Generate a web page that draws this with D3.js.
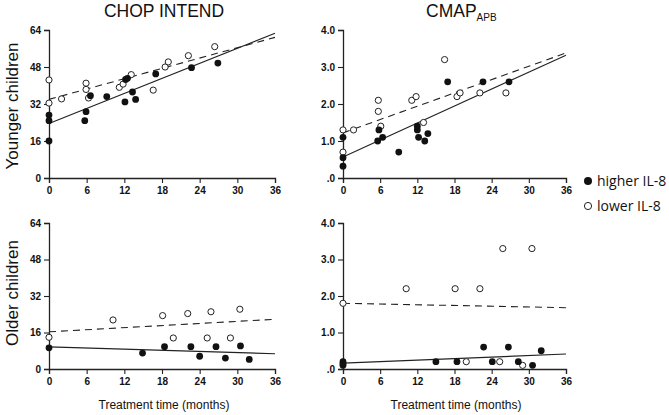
<!DOCTYPE html>
<html><head><meta charset="utf-8">
<script src="https://cdn.jsdelivr.net/npm/d3@7"></script>
<style>body{margin:0;background:#fff}</style>
</head><body><svg id="c" width="669" height="415"></svg>
<script>
// ---- data ----
const monthTicks = [0, 6, 12, 18, 24, 30, 36];
const chopTicks = [0, 16, 32, 48, 64];
const cmapTicks = [0, 1, 2, 3, 4];
const cmapTickLabels = [".0", "1.0", "2.0", "3.0", "4.0"];

// CHOP INTEND, younger children [month, score]
const chopYoungHigh = [[0,27.2],[0,24.8],[0,16],[5.7,24.8],[5.9,28.7],[6.6,35.6],[9.2,35.2],[12.1,32.9],[12.2,42.6],[12.5,43.1],[13.3,37.2],[13.8,34],[17.0,45],[22.7,47.7],[26.9,49.7]];
const chopYoungLow  = [[0,42.4],[0,32.4],[2.0,34.2],[5.9,41],[5.9,38.3],[6.3,34.6],[11.2,39.2],[11.8,40.6],[13.1,44.7],[16.6,38],[18.5,48],[19.0,50.2],[22.2,52.9],[26.4,56.8]];
// CMAP APB, younger children
const cmapYoungHigh = [[0,1.1],[0,0.55],[0,0.32],[5.6,1.0],[5.8,1.3],[6.4,1.1],[9.0,0.7],[12.0,1.3],[12.0,1.4],[12.2,1.1],[13.2,1.0],[13.7,1.2],[16.9,2.6],[22.6,2.6],[26.8,2.6]];
const cmapYoungLow  = [[0,1.3],[0,0.7],[1.7,1.3],[5.7,2.1],[5.7,1.8],[6.1,1.4],[11.1,2.1],[11.8,2.2],[13.0,1.5],[16.4,3.2],[18.4,2.2],[18.9,2.3],[22.1,2.3],[26.3,2.3]];
// CHOP INTEND, older children
const chopOldHigh = [[0,9.3],[14.9,7.0],[18.4,9.8],[22.6,9.8],[24.0,5.6],[26.6,9.8],[28.1,4.8],[30.5,10.1],[31.9,4.2]];
const chopOldLow  = [[0,13.9],[10.2,21.5],[18.1,23.4],[19.8,13.6],[22.1,24.3],[25.2,13.6],[25.8,25.1],[28.9,13.6],[30.4,26.2]];
// CMAP APB, older children
const cmapOldHigh = [[0,0.2],[0,0.15],[0,0.1],[15.0,0.2],[18.4,0.2],[22.7,0.6],[24.1,0.2],[26.7,0.6],[28.3,0.2],[30.6,0.1],[32.0,0.5]];
const cmapOldLow  = [[0,1.8],[10.2,2.2],[18.1,2.2],[22.1,2.2],[19.9,0.2],[25.3,0.2],[25.8,3.3],[29.0,0.1],[30.5,3.3]];

// regression lines [value at 0, value at 36]
const chopYoungFit = {high:[23.6,62.6], low:[34.0,60.8]};
const cmapYoungFit = {high:[0.57,3.32], low:[1.22,3.38]};
const chopOldFit   = {high:[9.7,6.7],  low:[16.3,21.8]};
const cmapOldFit   = {high:[0.16,0.41], low:[1.8,1.68]};

const legendLabels = ["higher IL-8", "lower IL-8"];

// ---- drawing ----
const svg = d3.select("#c");
const tickFont = "'Liberation Sans', Arial, sans-serif";

function panel(opt){
  const g = svg.append("g");
  const x = d3.scaleLinear().domain([0,36]).range([opt.x0, opt.x1]);
  const y = d3.scaleLinear().domain([0,opt.ymax]).range([opt.y0, opt.y1]);
  // axes
  const xa = g.append("g").attr("transform",`translate(0,${opt.y0})`)
    .call(d3.axisBottom(x).tickValues(monthTicks).tickSize(5).tickPadding(4).tickFormat(d3.format("d")));
  const ya = g.append("g").attr("transform",`translate(${opt.x0},0)`)
    .call(d3.axisLeft(y).tickValues(opt.ticks).tickSize(5).tickPadding(3).tickFormat((d,i)=>opt.labels[i]));
  [xa,ya].forEach(a=>{
    a.select(".domain").attr("stroke","#222").attr("stroke-width",1.3);
    a.selectAll(".tick line").attr("stroke","#222").attr("stroke-width",1.1);
    a.selectAll("text").attr("fill","#111").attr("font-family",tickFont).attr("font-weight","bold").attr("font-size","10px");
  });
  // fits
  const fit = (vals, dash) => g.append("line")
    .attr("x1",x(0)).attr("x2",x(36)).attr("y1",y(vals[0])).attr("y2",y(vals[1]))
    .attr("stroke","#222").attr("stroke-width",1.1).attr("stroke-dasharray",dash);
  fit(opt.fit.low,"7,5");
  fit(opt.fit.high,null);
  // points
  g.selectAll("circle.lo").data(opt.low).join("circle").attr("class","lo")
    .attr("cx",d=>x(d[0])).attr("cy",d=>y(d[1])).attr("r",3.1)
    .attr("fill","#fff").attr("stroke","#222").attr("stroke-width",1);
  g.selectAll("circle.hi").data(opt.high).join("circle").attr("class","hi")
    .attr("cx",d=>x(d[0])).attr("cy",d=>y(d[1])).attr("r",3.4)
    .attr("fill","#111");
}

panel({x0:49,x1:275,y0:178,y1:30,ymax:64,ticks:chopTicks,labels:chopTicks.map(String),high:chopYoungHigh,low:chopYoungLow,fit:chopYoungFit});
panel({x0:343,x1:566,y0:178,y1:30,ymax:4,ticks:cmapTicks,labels:cmapTickLabels,high:cmapYoungHigh,low:cmapYoungLow,fit:cmapYoungFit});
panel({x0:49,x1:275,y0:369,y1:223,ymax:64,ticks:chopTicks,labels:chopTicks.map(String),high:chopOldHigh,low:chopOldLow,fit:chopOldFit});
panel({x0:343,x1:566,y0:369,y1:223,ymax:4,ticks:cmapTicks,labels:cmapTickLabels,high:cmapOldHigh,low:cmapOldLow,fit:cmapOldFit});

// titles
const sans = "'Liberation Sans', Arial, sans-serif";
svg.append("text").attr("x",164).attr("y",17).attr("text-anchor","middle")
  .attr("font-family",sans).attr("font-size","17.5px").attr("fill","#111").text("CHOP INTEND");
const t2 = svg.append("text").attr("x",426).attr("y",17)
  .attr("font-family",sans).attr("font-size","17.5px").attr("fill","#111");
t2.append("tspan").text("CMAP");
t2.append("tspan").attr("dy",4).attr("font-size","10px").text("APB");

// row labels
svg.append("text").attr("transform","translate(18,106) rotate(-90)").attr("text-anchor","middle")
  .attr("font-family",sans).attr("font-size","17px").attr("fill","#111").text("Younger children");
svg.append("text").attr("transform","translate(18,293) rotate(-90)").attr("text-anchor","middle")
  .attr("font-family",sans).attr("font-size","17px").attr("fill","#111").text("Older children");

// x-axis titles
[164,456].forEach(cx=>{
  svg.append("text").attr("x",cx).attr("y",409).attr("text-anchor","middle")
    .attr("font-family",sans).attr("font-size","12px").attr("fill","#111").text("Treatment time (months)");
});

// legend
const lg = svg.append("g");
lg.append("circle").attr("cx",588).attr("cy",181).attr("r",4).attr("fill","#111");
lg.append("circle").attr("cx",588).attr("cy",206).attr("r",3.6).attr("fill","#fff").attr("stroke","#222").attr("stroke-width",1);
lg.append("text").attr("x",597).attr("y",186).attr("font-family","'Open Sans', sans-serif").attr("font-size","14px").attr("fill","#111").text(legendLabels[0]);
lg.append("text").attr("x",597).attr("y",211).attr("font-family","'Open Sans', sans-serif").attr("font-size","14px").attr("fill","#111").text(legendLabels[1]);
</script></body></html>
